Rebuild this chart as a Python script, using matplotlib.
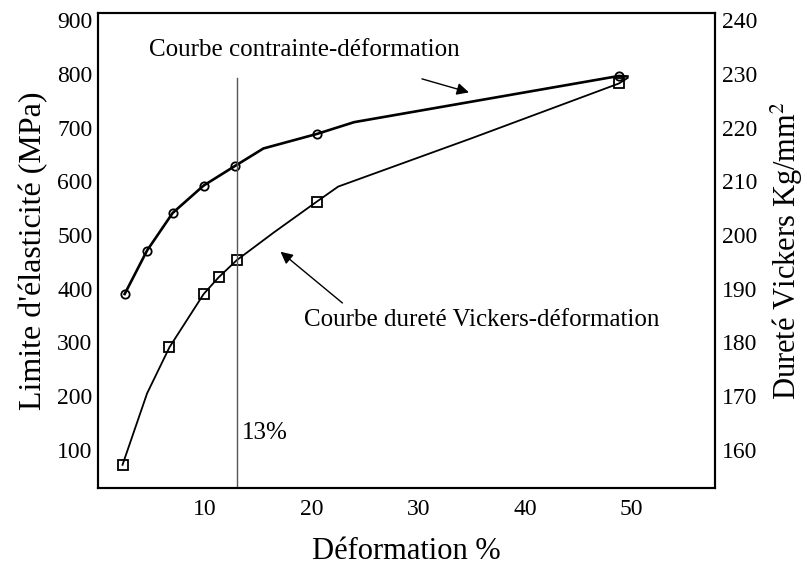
import matplotlib.pyplot as plt

# strain (%) and yield stress (MPa) - measured points
x_sig = [2.5, 4.6, 7.0, 9.9, 12.8, 20.5, 48.8]
y_sig = [390, 471, 541, 592, 628, 688, 796]
# extra line vertices (no marker)
x_sig_line = [2.5, 4.6, 7.0, 9.9, 12.8, 15.5, 20.5, 24.0, 48.8, 49.6]
y_sig_line = [390, 471, 541, 592, 628, 661, 688, 710, 796, 795]

# strain (%) and Vickers hardness, expressed on the left scale (HV = 150 + MPa/10)
x_hv = [2.3, 6.7, 9.9, 11.3, 13.0, 20.5, 48.8]
y_hv = [72, 291, 390, 421, 453, 562, 782]
x_hv_line = [2.3, 4.6, 6.7, 9.9, 11.3, 13.0, 16.5, 20.5, 22.5, 35.0, 48.8, 49.6]
y_hv_line = [72, 205, 291, 390, 421, 453, 505, 562, 590, 680, 782, 792]

xticks = [10, 20, 30, 40, 50]
yticks = [100, 200, 300, 400, 500, 600, 700, 800, 900]
hv_ticks = [160, 170, 180, 190, 200, 210, 220, 230, 240]

plt.rcParams['font.family'] = ['Liberation Serif', 'DejaVu Serif']
plt.rcParams['mathtext.fontset'] = 'stix'

fig = plt.figure(figsize=(8.07, 5.70), dpi=100)
ax = fig.add_axes([0.1214, 0.144, 0.7646, 0.833])

ax.plot(x_sig_line, y_sig_line, color='k', lw=1.9)
ax.plot(x_sig, y_sig, 'o', mfc='none', mec='k', ms=6, mew=1.3)
ax.plot(x_hv_line, y_hv_line, color='k', lw=1.3)
ax.plot(x_hv, y_hv, 's', mfc='none', mec='k', ms=7, mew=1.3)

ax.plot([13, 13], [29, 792], color='#555555', lw=1.0)

ax.set_xlim(0, 57.8)
ax.set_ylim(29, 913)
ax.set_xticks(xticks)
ax.set_yticks(yticks)
ax.tick_params(length=0, labelsize=17)
ax.tick_params(axis='x', pad=8)
ax.tick_params(axis='y', pad=4)
for s in ax.spines.values():
    s.set_linewidth(1.5)

ax.set_xlabel('Déformation %', fontsize=22, labelpad=12)
ax.set_ylabel("Limite d'élasticité (MPa)", fontsize=23, labelpad=6)

ax2 = ax.twinx()
ax2.set_ylim(150 + 29 / 10, 150 + 913 / 10)
ax2.set_yticks(hv_ticks)
ax2.tick_params(length=0, labelsize=17, pad=5)
ax2.set_ylabel('Dureté Vickers Kg/mm$^2$', fontsize=22, labelpad=8)
for s in ax2.spines.values():
    s.set_linewidth(1.5)

ax.text(33.9, 844, 'Courbe contrainte-déformation', fontsize=18,
        ha='right', va='center')
ax.annotate('', xy=(35.0, 764), xytext=(30.1, 792),
            arrowprops=dict(arrowstyle='-|>', color='k', lw=1.0,
                            mutation_scale=18))
ax.text(19.3, 342, 'Courbe dureté Vickers-déformation', fontsize=18,
        ha='left', va='center')
ax.annotate('', xy=(16.9, 472), xytext=(23.1, 370),
            arrowprops=dict(arrowstyle='-|>', color='k', lw=1.0,
                            mutation_scale=18))
ax.text(13.5, 132, '13%', fontsize=18, ha='left', va='center')

fig.savefig('out.png', dpi=100)
